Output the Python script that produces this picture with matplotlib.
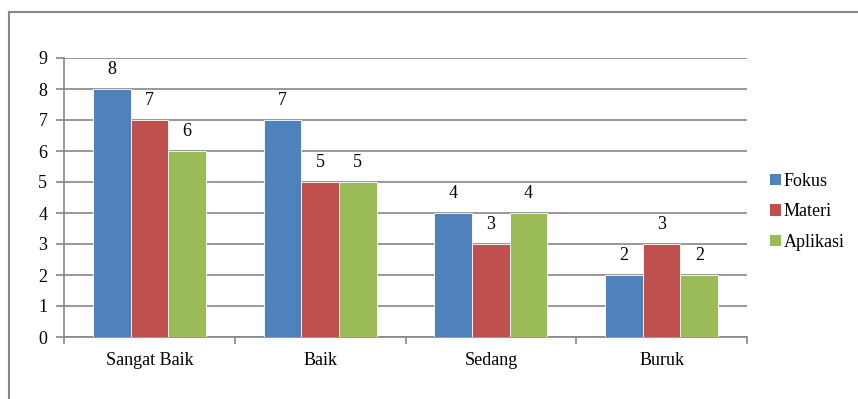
import matplotlib
matplotlib.use("Agg")
import matplotlib.pyplot as plt
import numpy as np
from matplotlib.lines import Line2D
from matplotlib.patches import Patch

categories = ["Sangat Baik", "Baik", "Sedang", "Buruk"]
series_names = ["Fokus", "Materi", "Aplikasi"]
fokus = [8, 7, 4, 2]
materi = [7, 5, 3, 3]
aplikasi = [6, 5, 4, 2]
colors = ["#4F81BD", "#C0504D", "#9BBB59"]
yticks = list(range(0, 10))

plt.rcParams['font.family'] = 'serif'
plt.rcParams['font.serif'] = ['Liberation Serif', 'DejaVu Serif']
fs = 13

fig = plt.figure(figsize=(8.58, 3.99), dpi=100)
ax = fig.add_axes([64/858, 1-337/399, (747-64)/858, (337-58)/399])

x = np.arange(len(categories))
w = 0.221
grid_c = "#868686"
for i, (vals, c) in enumerate(zip([fokus, materi, aplikasi], colors)):
    bars = ax.bar(x + (i-1)*w, vals, width=w, color=c, edgecolor="white", linewidth=0.6, zorder=3)
    for b, v in zip(bars, vals):
        ax.annotate(str(v), (b.get_x()+b.get_width()/2, v), xytext=(0, 8),
                    textcoords="offset points", ha="center", va="bottom", fontsize=fs)

ax.set_xlim(-0.5, 3.5)
ax.set_ylim(0, 9)
ax.set_yticks(yticks)
ax.set_yticklabels([str(t) for t in yticks], fontsize=fs)
ax.set_xticks(x)
ax.set_xticklabels(categories, fontsize=fs)
ax.set_xticks(np.arange(-0.5, 4, 1), minor=True)
ax.tick_params(axis='x', which='major', length=0, pad=11)
ax.tick_params(axis='x', which='minor', length=5, width=1.2, color=grid_c)
ax.tick_params(axis='y', length=6, width=1.2, color=grid_c, pad=6)
ax.yaxis.grid(True, color=grid_c, linewidth=1.2, zorder=0)
ax.set_axisbelow(True)
for s in ["top", "right"]:
    ax.spines[s].set_visible(False)
for s in ["left", "bottom"]:
    ax.spines[s].set_color(grid_c)
    ax.spines[s].set_linewidth(1.2)

handles = [Patch(facecolor=c, edgecolor="none") for c in colors]
fig.legend(handles, series_names, loc="center left", bbox_to_anchor=(754/858, 1-212/399),
           frameon=False, fontsize=fs, handlelength=0.6, handleheight=0.6,
           handletextpad=0.15, labelspacing=0.75)

fig.add_artist(Line2D([9/858, 1], [1-12/399, 1-12/399], transform=fig.transFigure, color="#888888", linewidth=1.5))
fig.add_artist(Line2D([9/858, 9/858], [0, 1-12/399], transform=fig.transFigure, color="#888888", linewidth=1.5))

fig.savefig("out.png", dpi=100)
